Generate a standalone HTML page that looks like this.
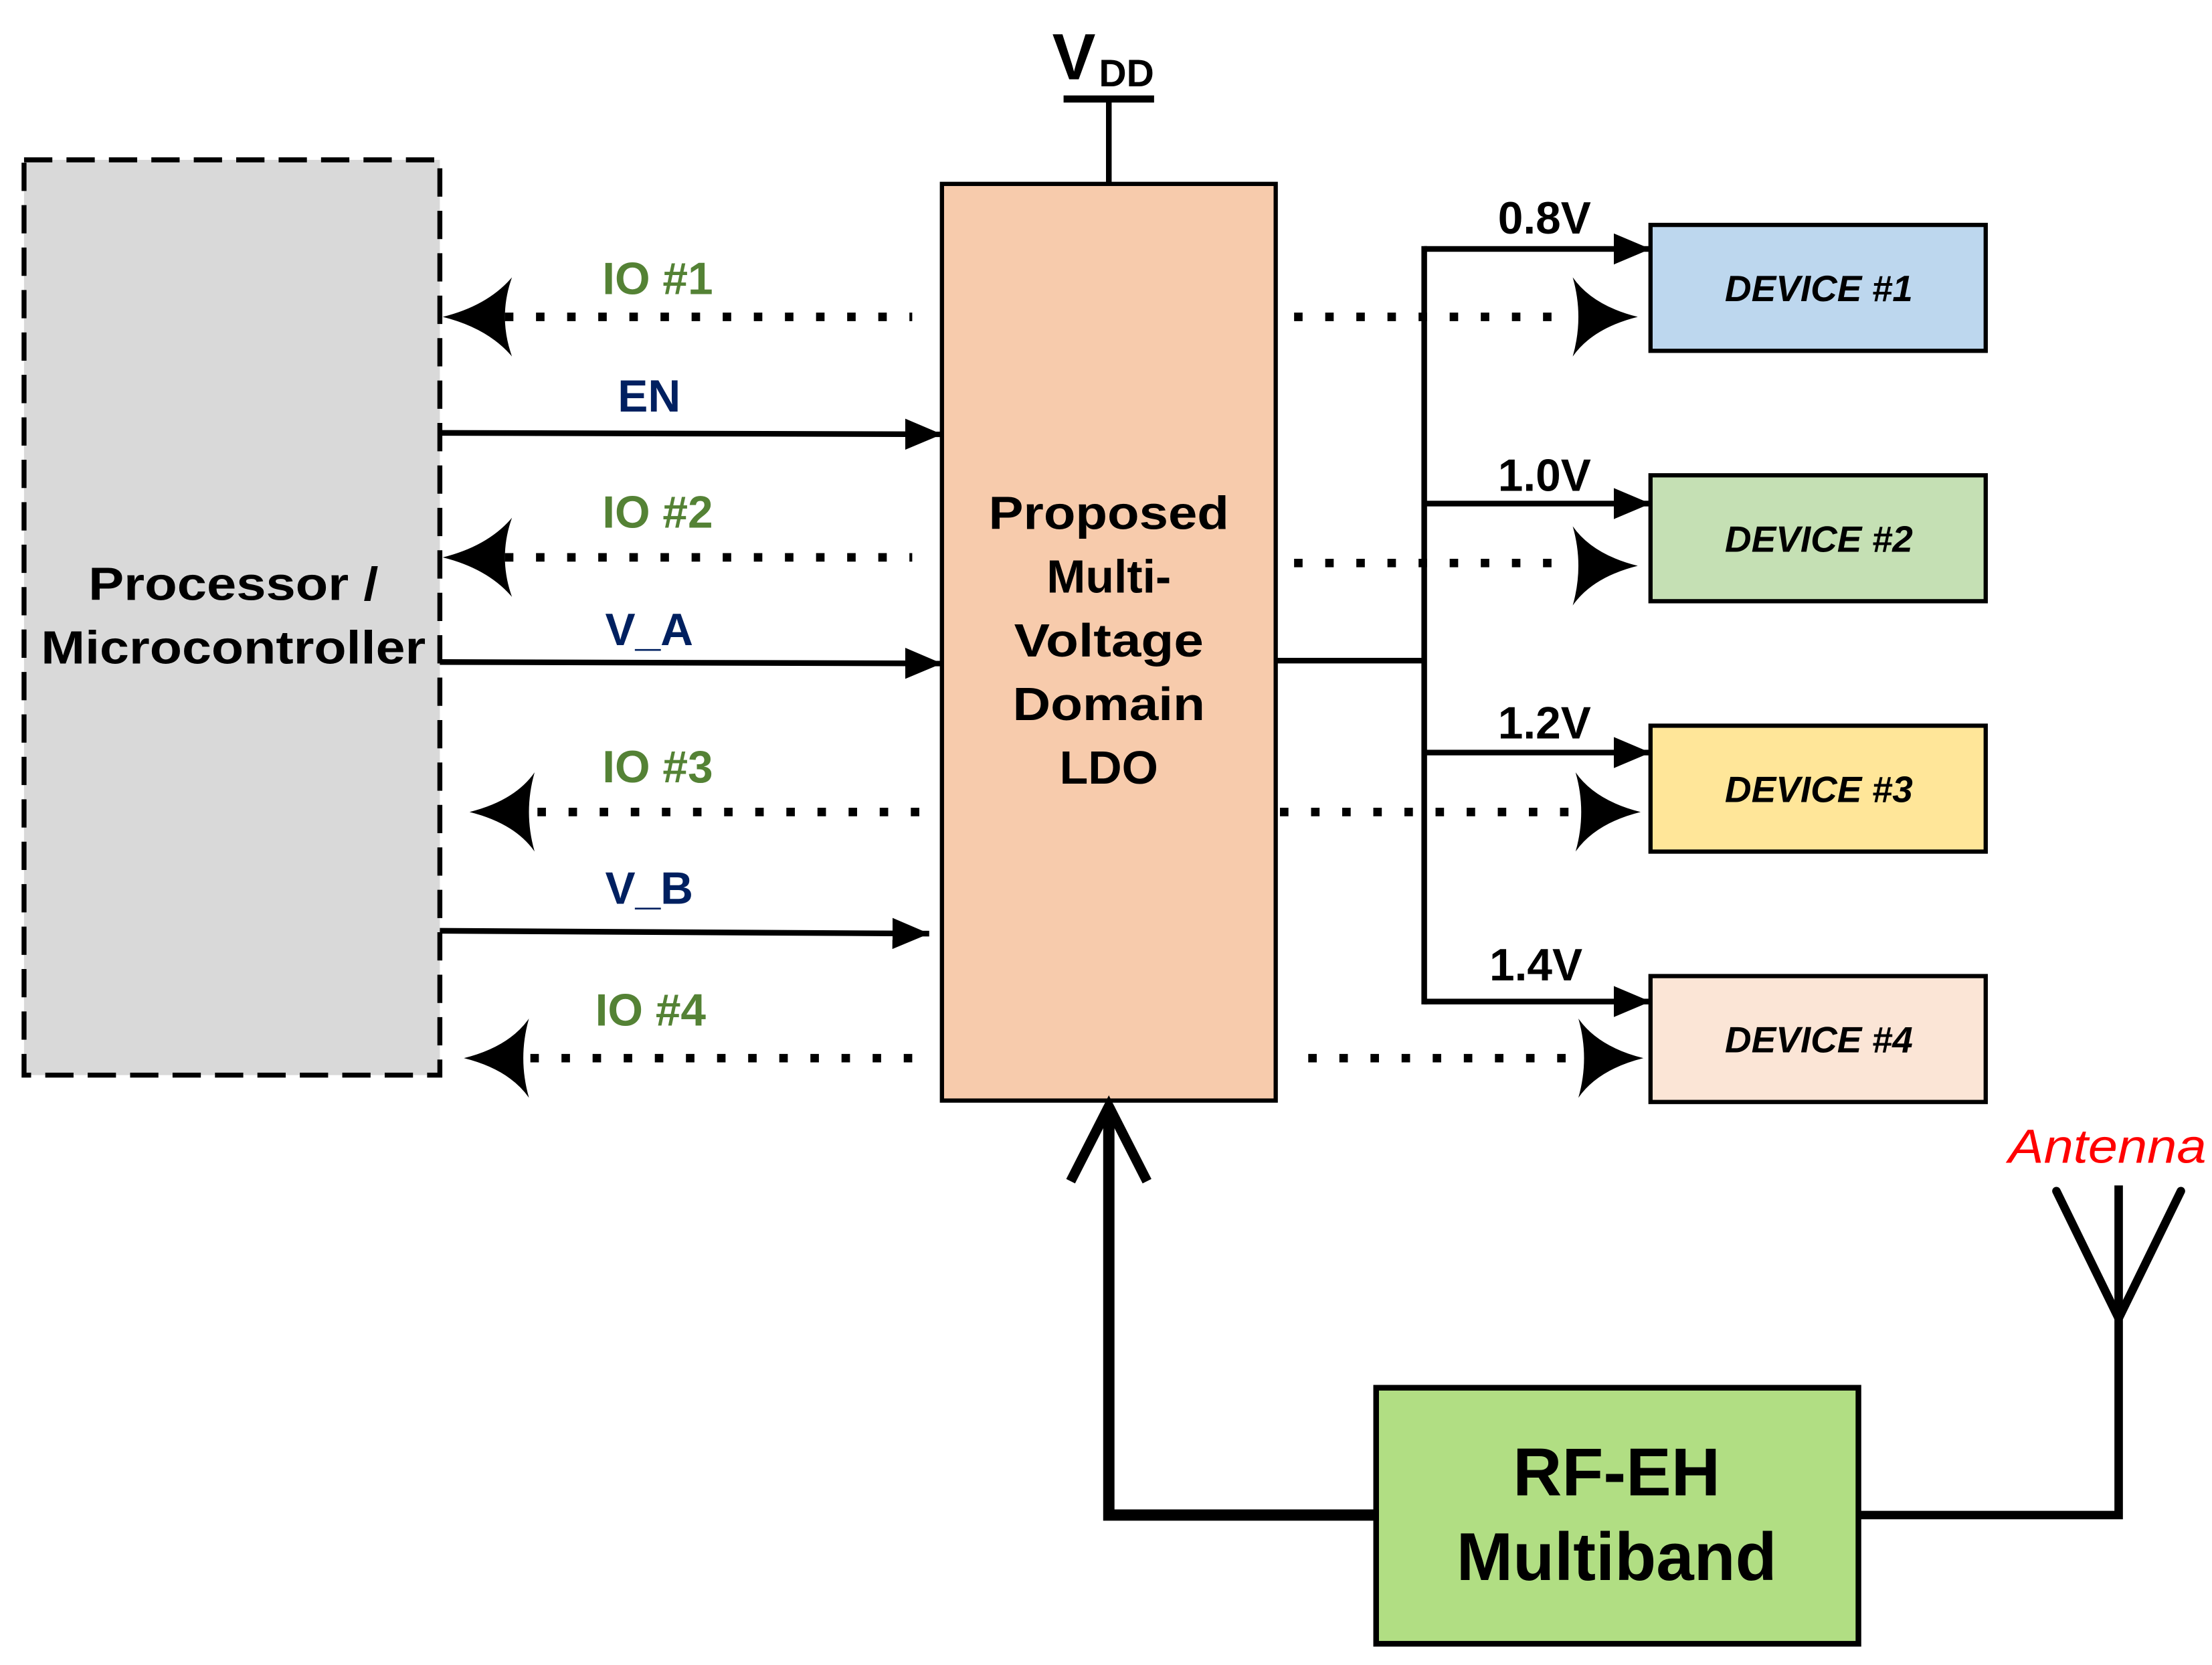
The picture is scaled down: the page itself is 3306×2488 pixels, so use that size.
<!DOCTYPE html>
<html><head><meta charset="utf-8"><style>html,body{margin:0;padding:0;background:#fff}svg{display:block}</style></head>
<body>
<svg width="3306" height="2488" viewBox="0 0 1564 1177" preserveAspectRatio="none" xmlns="http://www.w3.org/2000/svg" font-family="'Liberation Sans', Arial, sans-serif" font-weight="bold">
<defs>
<marker id="ah" markerWidth="26" markerHeight="22" refX="10" refY="5" orient="auto" markerUnits="userSpaceOnUse" viewBox="0 0 10 10" preserveAspectRatio="none"><path d="M0,0 L10,5 L0,10 Z"/></marker>
</defs>
<!-- Processor -->
<rect x="17" y="113" width="294" height="647" fill="#d9d9d9" stroke="#000" stroke-width="3.5" stroke-dasharray="20 10"/>
<text x="165" y="424" font-size="33" text-anchor="middle" textLength="205" lengthAdjust="spacingAndGlyphs">Processor /</text>
<text x="165" y="469" font-size="33" text-anchor="middle" textLength="272" lengthAdjust="spacingAndGlyphs">Microcontroller</text>
<!-- LDO -->
<rect x="666" y="130" width="236" height="648" fill="#f7cbac" stroke="#000" stroke-width="3"/>
<g font-size="33" text-anchor="middle">
<text x="784" y="374" textLength="170" lengthAdjust="spacingAndGlyphs">Proposed</text>
<text x="784" y="419">Multi-</text>
<text x="784" y="464" textLength="134" lengthAdjust="spacingAndGlyphs">Voltage</text>
<text x="784" y="509" textLength="136" lengthAdjust="spacingAndGlyphs">Domain</text>
<text x="784" y="554">LDO</text>
</g>
<!-- VDD -->
<line x1="784" y1="70" x2="784" y2="130" stroke="#000" stroke-width="4"/>
<line x1="752" y1="70" x2="816" y2="70" stroke="#000" stroke-width="5"/>
<text x="744" y="56" font-size="46">V</text>
<text x="777" y="61" font-size="27">DD</text>
<!-- Devices -->
<g stroke="#000" stroke-width="3">
<rect x="1167" y="159" width="237" height="89" fill="#bdd7ee"/>
<rect x="1167" y="336" width="237" height="89" fill="#c5e0b4"/>
<rect x="1167" y="513" width="237" height="89" fill="#ffe699"/>
<rect x="1167" y="690" width="237" height="89" fill="#fbe5d6"/>
</g>
<g font-size="26" font-style="italic" text-anchor="middle">
<text x="1286" y="213">DEVICE #1</text>
<text x="1286" y="390">DEVICE #2</text>
<text x="1286" y="567">DEVICE #3</text>
<text x="1286" y="744">DEVICE #4</text>
</g>
<!-- bus -->
<g stroke="#000" stroke-width="4" fill="none">
<line x1="902" y1="467" x2="1007" y2="467"/>
<line x1="1007" y1="174" x2="1007" y2="710"/>
<line x1="1007" y1="176" x2="1167" y2="176" marker-end="url(#ah)"/>
<line x1="1007" y1="356" x2="1167" y2="356" marker-end="url(#ah)"/>
<line x1="1007" y1="532" x2="1167" y2="532" marker-end="url(#ah)"/>
<line x1="1007" y1="708" x2="1167" y2="708" marker-end="url(#ah)"/>
<line x1="311" y1="306" x2="666" y2="307" marker-end="url(#ah)"/>
<line x1="311" y1="468" x2="666" y2="469" marker-end="url(#ah)"/>
<line x1="311" y1="658" x2="657" y2="660" marker-end="url(#ah)"/>
</g>
<g font-size="32" text-anchor="middle">
<text x="1092" y="165">0.8V</text>
<text x="1092" y="347">1.0V</text>
<text x="1092" y="522">1.2V</text>
<text x="1086" y="693">1.4V</text>
</g>
<g font-size="32" text-anchor="middle" fill="#002060">
<text x="459" y="291">EN</text>
<text x="459" y="456">V_A</text>
<text x="459" y="639">V_B</text>
</g>
<g font-size="32" text-anchor="middle" fill="#548235">
<text x="465" y="208">IO #1</text>
<text x="465" y="373">IO #2</text>
<text x="465" y="553">IO #3</text>
<text x="460" y="725">IO #4</text>
</g>
<!-- dotted IO -->
<g stroke="#000" stroke-width="6" stroke-dasharray="6 16">
<line x1="357" y1="224" x2="645" y2="224"/>
<line x1="357" y1="394" x2="645" y2="394"/>
<line x1="380" y1="574" x2="660" y2="574"/>
<line x1="375" y1="748" x2="655" y2="748"/>
<line x1="915" y1="224" x2="1110" y2="224"/>
<line x1="915" y1="398" x2="1110" y2="398"/>
<line x1="905" y1="574" x2="1115" y2="574"/>
<line x1="925" y1="748" x2="1115" y2="748"/>
</g>
<g fill="#000">
<path d="M313,224 Q345,216 362,196 Q352,224 362,252 Q345,232 313,224 Z"/>
<path d="M313,394 Q345,386 362,366 Q352,394 362,422 Q345,402 313,394 Z"/>
<path d="M332,574 Q364,566 378,546 Q370,574 378,602 Q364,582 332,574 Z"/>
<path d="M328,748 Q360,740 374,720 Q366,748 374,776 Q360,756 328,748 Z"/>
<path d="M1158,224 Q1126,216 1112,196 Q1120,224 1112,252 Q1126,232 1158,224 Z"/>
<path d="M1158,400 Q1126,392 1112,372 Q1120,400 1112,428 Q1126,408 1158,400 Z"/>
<path d="M1160,574 Q1128,566 1114,546 Q1122,574 1114,602 Q1128,582 1160,574 Z"/>
<path d="M1162,748 Q1130,740 1116,720 Q1124,748 1116,776 Q1130,756 1162,748 Z"/>
</g>
<!-- RF-EH -->
<rect x="973" y="981" width="341" height="181" fill="#b1de83" stroke="#000" stroke-width="4"/>
<text x="1143" y="1057" font-size="48" text-anchor="middle">RF-EH</text>
<text x="1143" y="1117" font-size="48" text-anchor="middle">Multiband</text>
<g stroke="#000" fill="none">
<polyline points="975,1071 784,1071 784,782" stroke-width="8"/>
<polyline points="757,835 784,782 811,835" stroke-width="7"/>
<polyline points="1314,1071 1498,1071 1498,838" stroke-width="6"/>
<polyline points="1454,842 1498,932 1542,842" stroke-width="6" stroke-linecap="round"/>
</g>
<text x="1420" y="822" font-size="34" font-weight="normal" font-style="italic" fill="#ff0000" textLength="140" lengthAdjust="spacingAndGlyphs">Antenna</text>
</svg>
</body></html>
